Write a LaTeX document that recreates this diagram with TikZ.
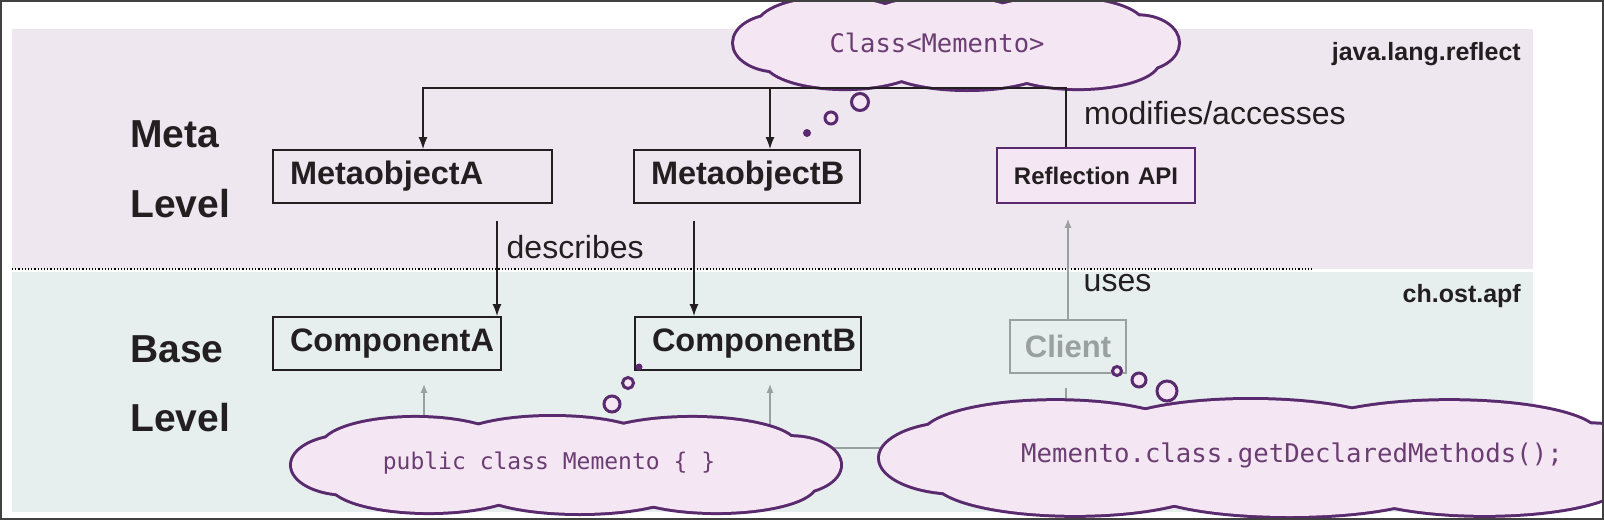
\documentclass[tikz,border=0pt]{standalone}
\usepackage{fontspec}
\setmainfont{Liberation Sans}
\newfontfamily\codefont{DejaVu Sans Mono}
\usetikzlibrary{arrows.meta,positioning}

\definecolor{metaband}{HTML}{EEE7F0}
\definecolor{baseband}{HTML}{E6EFEE}
\definecolor{cloudline}{HTML}{5A2A6E}
\definecolor{cloudfill}{HTML}{F4E7F3}
\definecolor{codetext}{HTML}{6B3D73}
\definecolor{inktext}{HTML}{231F20}
\definecolor{greyink}{HTML}{9A9F9F}
\definecolor{frameink}{HTML}{404040}

\pgfdeclarelayer{bg}
\pgfsetlayers{bg,main}

% puffs of a cloud: x/y offset and x/y radius, as parts of the half sizes
\newcommand{\cloudpuffs}{-0.55/-0.38/0.34/0.6, -0.05/-0.47/0.36/0.53, 0.46/-0.4/0.38/0.58,
	-0.5/0.38/0.36/0.6, 0.05/0.47/0.38/0.53, 0.55/0.4/0.36/0.58, -0.8/0/0.2/0.6, 0.82/0/0.18/0.58}
\newcommand{\drawcloud}[4]{%
	\foreach \pu/\pv/\pa/\pb in \cloudpuffs
		\draw[cloudline, line width=6] ({#1+\pu*#3},{#2+\pv*#4}) ellipse [x radius={\pa*#3}, y radius={\pb*#4}];
	\foreach \pu/\pv/\pa/\pb in \cloudpuffs
		\fill[cloudfill] ({#1+\pu*#3},{#2+\pv*#4}) ellipse [x radius={\pa*#3}, y radius={\pb*#4}];
	\fill[cloudfill] (#1,#2) ellipse [x radius={0.8*#3}, y radius={0.6*#4}];
}

\begin{document}
\begin{tikzpicture}[
		x=1pt, y=-1pt,
		lvl/.style={anchor=base west, inner sep=0, text=inktext, font=\fontsize{39}{44}\selectfont\bfseries},
		pkg/.style={anchor=base east, inner sep=0, text=inktext, font=\fontsize{25}{30}\selectfont\bfseries},
		lbl/.style={inner sep=0, text=inktext, font=\fontsize{32}{38}\selectfont},
		box/.style={draw=inktext, line width=1.8, minimum height=53, inner ysep=0, inner xsep=17, align=left, text=inktext, font=\fontsize{32.5}{38}\selectfont\bfseries},
		code/.style={inner sep=0, text=codetext},
		bubble/.style={draw=cloudline, line width=3, fill=cloudfill},
		arr/.style={draw=inktext, line width=1.4, -{Latex[length=12,width=9]}},
		greyarr/.style={draw=greyink, line width=1.4, -{Latex[length=9,width=7]}},
		greyline/.style={draw=greyink, line width=1.4},
	]
	\useasboundingbox (0,0) rectangle (1604,520);
	\clip (0,0) rectangle (1604,520);

	% levels
	\fill[metaband] (12,29) rectangle (1533,269);
	\fill[baseband] (12,272) rectangle (1533,512);
	\draw[dotted, line width=1.2] (12,269) -- (1312,269);
	\node[lvl] (metaW) at (130,147) {Meta};
	\node[lvl] (metaL) at (130,217) {Level};
	\node[lvl] (baseW) at (130,362) {Base};
	\node[lvl] (baseL) at (130,431) {Level};
	\node[pkg] (pkgRefl) at (1521,60) {java.lang.reflect};
	\node[pkg] (pkgApf) at (1521,302) {ch.ost.apf};

	% boxes
	\node[box, text width=245] (metaA) at (412.5,176.5) {MetaobjectA};
	\node[box, text width=192] (metaB) at (747,176.5) {MetaobjectB};
	\node[box, text width=194] (compA) at (387,343.5) {ComponentA};
	\node[box, text width=192] (compB) at (748,343.5) {ComponentB};
	\node[box, draw=cloudline, fill=cloudfill, line width=1.6, minimum height=55, inner xsep=0, text width=198, align=center, font=\fontsize{24}{28}\selectfont\bfseries] (refl) at (1096,175.5) {Reflection API};
	\node[box, draw=greyink, text=greyink, line width=1.6, inner xsep=0, text width=116, align=center, font=\fontsize{31}{36}\selectfont\bfseries] (client) at (1068,346.5) {Client};

	% base connectors, under the clouds
	\coordinate (cloudCls) at (956,43);
	\coordinate (cloudMem) at (566,465);
	\coordinate (cloudCall) at (1270,458);
	\draw[greyarr] ([xshift=37]compA.south |- cloudMem) -- ([xshift=37,yshift=-13]compA.south);
	\draw[greyarr] ([xshift=22]compB.south |- cloudMem) -- ([xshift=22,yshift=-13]compB.south);
	\draw[greyline] ([xshift=-2,yshift=-14]client.south) -- ([xshift=-2]client.south |- cloudCall);
	\draw[greyline] ([yshift=17]cloudMem) -- ([yshift=17]cloudMem -| cloudCall);

	% clouds
	\drawcloud{956}{43}{222}{46}
	\node[code, font=\codefont\fontsize{25.5}{30}\selectfont] (clsTxt) at (937,43) {Class<Memento>};
	\drawcloud{566}{465}{274}{48}
	\node[code, font=\codefont\fontsize{23}{28}\selectfont] (memTxt) at (549,463) {public class Memento \{ \}};
	\drawcloud{1270}{458}{390}{58}
	\node[code, font=\codefont\fontsize{25.7}{30}\selectfont] (callTxt) at (1292,455) {Memento.class.getDeclaredMethods();};

	% thought bubbles
	\fill[cloudline] (807,133) circle[radius=4];
	\draw[bubble] (831,118) circle[radius=6];
	\draw[bubble] (860,102) circle[radius=8.5];
	\fill[cloudline] (639,367) circle[radius=3.5];
	\draw[bubble] (628,383) circle[radius=5.5];
	\draw[bubble] (612,404) circle[radius=8];
	\draw[bubble] (1117,371) circle[radius=4.5];
	\draw[bubble] (1139,380) circle[radius=7];
	\draw[bubble] (1167,391) circle[radius=10];

	% meta connectors
	\coordinate (hubA) at (423,88);
	\coordinate (hubB) at (770,88);
	\draw[arr] ([xshift=-30]refl.north) |- (hubA) -- (hubA |- metaA.north);
	\draw[arr] (hubB) -- (hubB |- metaB.north);
	\node[lbl, anchor=west] (lblMod) at (1084,113) {modifies/accesses};
	\draw[arr] ([xshift=84.5,yshift=-17]metaA.south) -- ([xshift=84.5]metaA.south |- compA.north)
		node[lbl, pos=0.27, right=9] (lblDesc) {describes};
	\draw[arr] ([xshift=-53,yshift=-17]metaB.south) -- ([xshift=-53]metaB.south |- compB.north);
	\draw[greyarr] (client.north) -- ([yshift=-15]refl.south -| client.north)
		node[lbl, pos=0.36, right=15] (lblUses) {uses};

	% frame
	\draw[frameink, line width=1.6] (1,1) rectangle (1603,519);
\end{tikzpicture}
\end{document}
